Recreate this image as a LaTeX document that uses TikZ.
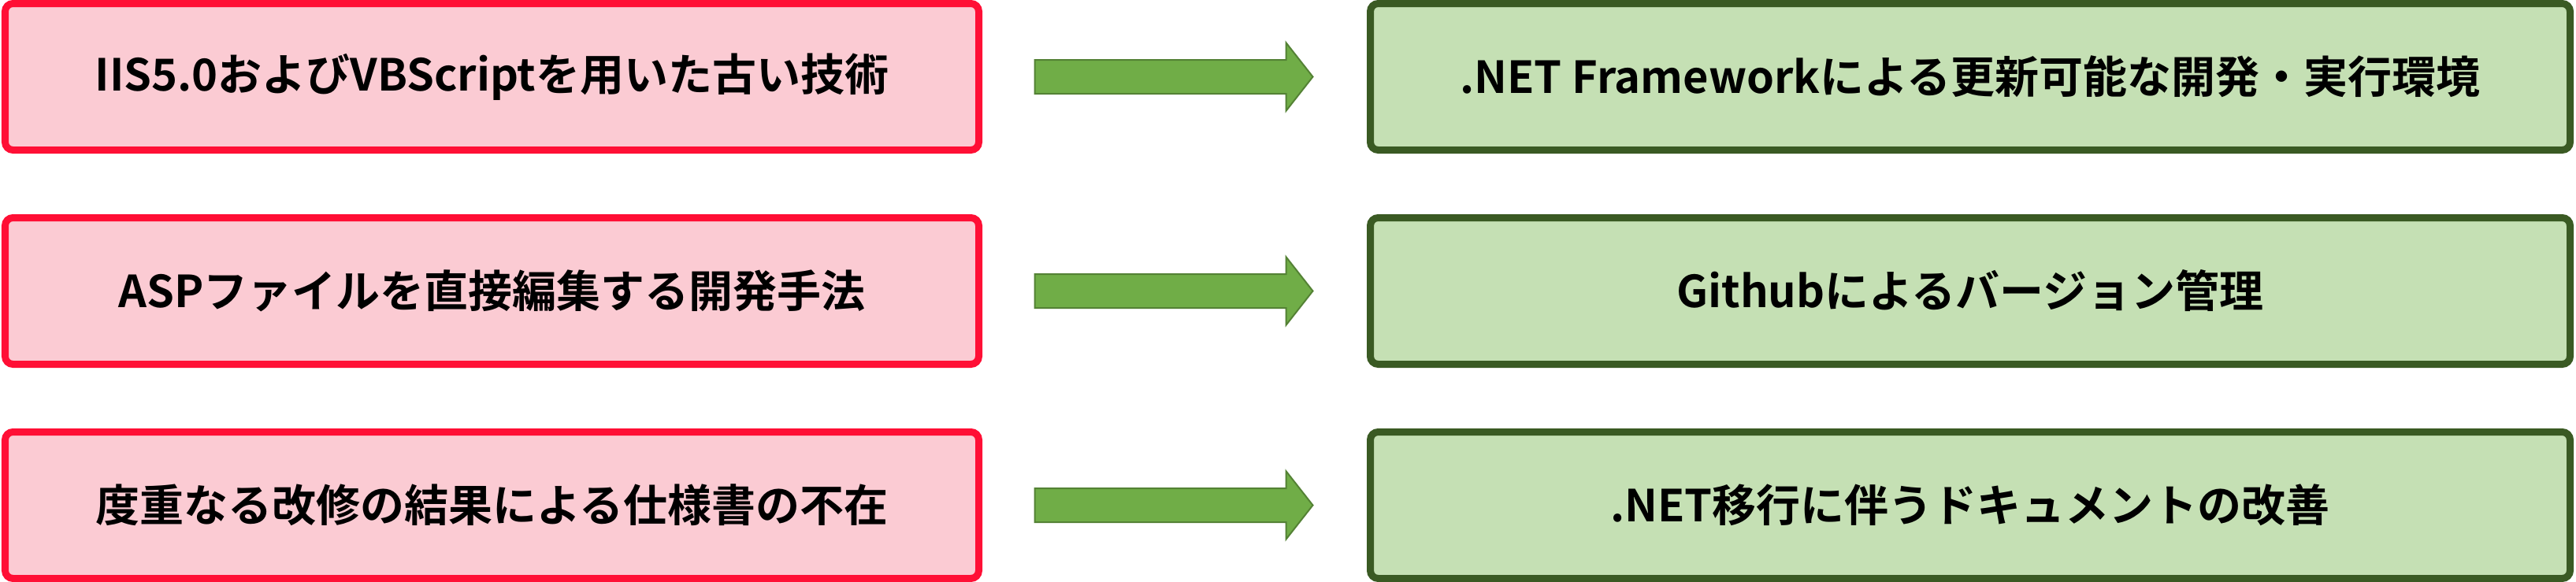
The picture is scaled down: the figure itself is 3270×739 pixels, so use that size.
\documentclass[tikz,border=0pt]{standalone}
\usepackage{fontspec}
\setmainfont{Noto Sans CJK JP}[BoldFont={Noto Sans CJK JP Bold}]
\usetikzlibrary{calc}
\definecolor{redline}{HTML}{FF0F35}
\definecolor{redfill}{HTML}{FBCBD3}
\definecolor{greenline}{HTML}{3A5A23}
\definecolor{greenfill}{HTML}{C5E0B4}
\definecolor{arrowfill}{HTML}{70AD47}
\definecolor{arrowline}{HTML}{548235}
\tikzset{
  oldbox/.style={draw=redline, fill=redfill, line width=2.25pt, rounded corners=2.5pt,
    minimum width=309pt, minimum height=46.5pt, inner sep=0pt,
    font=\bfseries\fontsize{14}{17}\selectfont},
  newbox/.style={draw=greenline, fill=greenfill, line width=2.25pt, rounded corners=2.5pt,
    minimum width=380.75pt, minimum height=46.5pt, inner sep=0pt,
    font=\bfseries\fontsize{14}{17}\selectfont},
  blockarrow/.style={fill=arrowfill, draw=arrowline, line width=0.5pt, line join=miter}
}
\begin{document}
\begin{tikzpicture}[x=0.25pt, y=-0.25pt]
\useasboundingbox (0,0) rectangle (3270,739);
\node[oldbox] (r1) at (624.5,97.5) {IIS5.0およびVBScriptを用いた古い技術};
\node[oldbox] (r2) at (624.5,369.5) {ASPファイルを直接編集する開発手法};
\node[oldbox] (r3) at (624.5,641.5) {度重なる改修の結果による仕様書の不在};
\node[newbox] (g1) at (2501,97.5) {.NET Frameworkによる更新可能な開発・実行環境};
\node[newbox] (g2) at (2501,369.5) {Githubによるバージョン管理};
\node[newbox] (g3) at (2501,641.5) {.NET移行に伴うドキュメントの改善};
\foreach \i in {1,2,3}{
  \draw[blockarrow] ($(r\i.east)+(66.5,-21.5)$) -- ($(r\i.east)+(385.5,-21.5)$)
    -- ($(r\i.east)+(385.5,-43.3)$) -- ($(g\i.west)!0.5!(g\i.west)+(-68.5,0)$)
    -- ($(r\i.east)+(385.5,43.3)$) -- ($(r\i.east)+(385.5,21.5)$)
    -- ($(r\i.east)+(66.5,21.5)$) -- cycle;
}
\end{tikzpicture}
\end{document}
